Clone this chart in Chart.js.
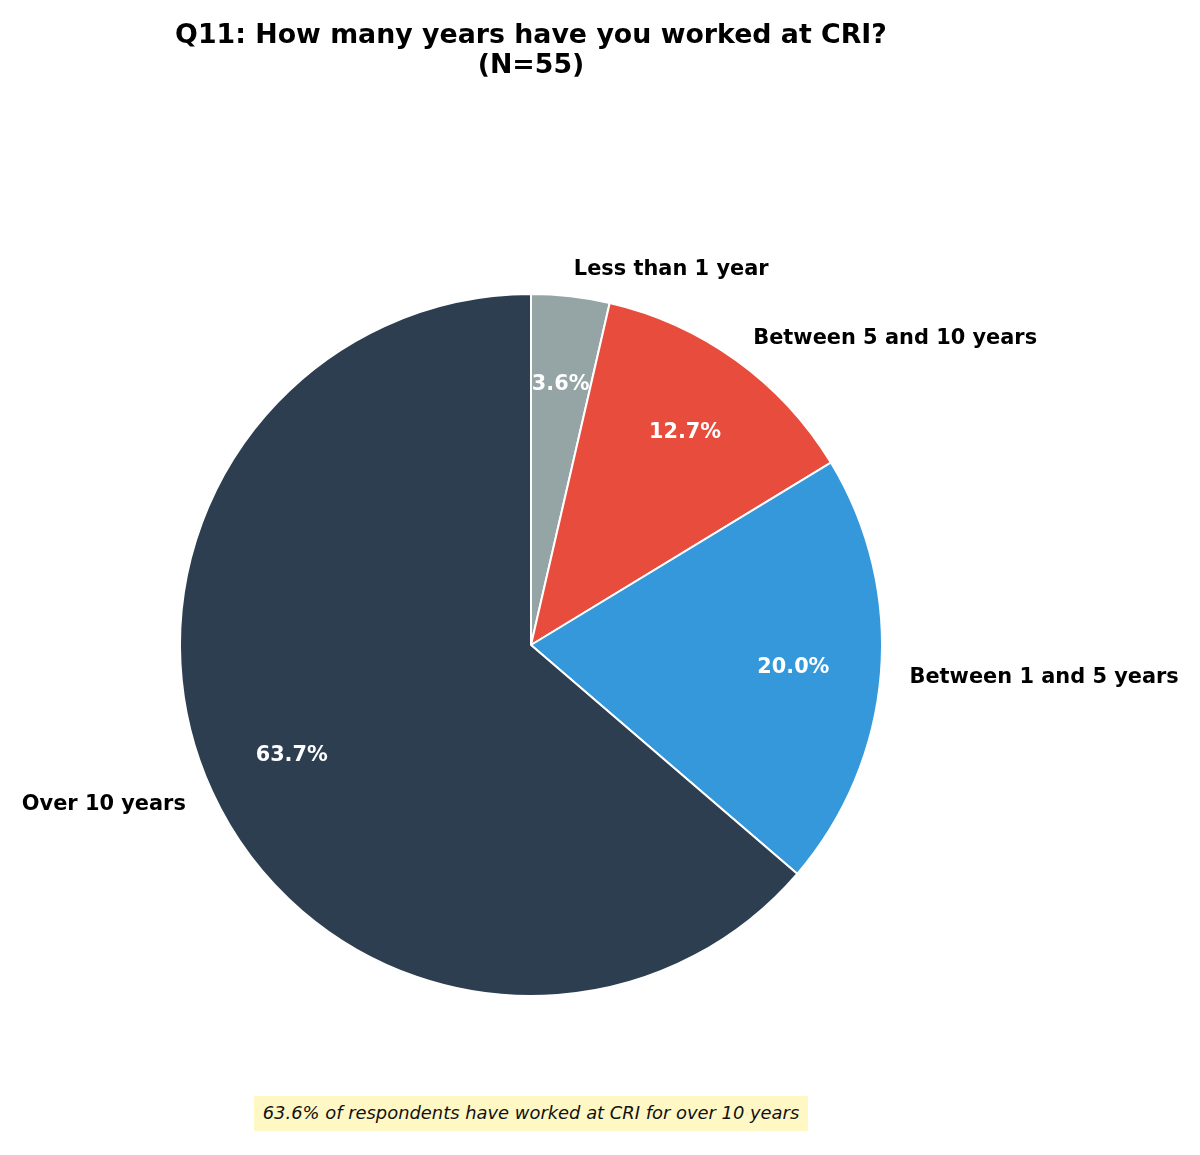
<!DOCTYPE html>
<html>
<head>
<meta charset="utf-8">
<script src="https://cdn.jsdelivr.net/npm/chart.js@4/dist/chart.umd.min.js"></script>
<style>
  html, body { margin: 0; padding: 0; background: #ffffff; }
  #wrap { position: relative; width: 1200px; height: 1155px; }
  #c { position: absolute; left: 0; top: 0; }
  #title {
    position: absolute; left: 0; width: 1062px; top: 19px;
    text-align: center; font-family: "DejaVu Sans", sans-serif; font-weight: bold;
    font-size: 26.8px; line-height: 30px; color: #000;
  }
  #note {
    position: absolute; left: 254px; top: 1096px; width: 554px; height: 35px;
    background: #fff8c5; font-family: "DejaVu Sans", sans-serif; font-style: italic;
    font-size: 17.9px; line-height: 34px; text-align: center; color: #111;
  }
</style>
</head>
<body>
<div id="wrap">
  <canvas id="c" width="1200" height="1155"></canvas>
  <div id="title">Q11: How many years have you worked at CRI?<br>(N=55)</div>
  <div id="note">63.6% of respondents have worked at CRI for over 10 years</div>
</div>
<script>
const categories = ["Less than 1 year", "Between 5 and 10 years", "Between 1 and 5 years", "Over 10 years"];
const percentValues = [3.6, 12.7, 20.0, 63.7];
const sliceColors = ["#95a5a6", "#e74c3c", "#3498db", "#2c3e50"];

const labelPlugin = {
  id: 'pieLabels',
  afterDatasetsDraw(chart) {
    const ctx = chart.ctx;
    const meta = chart.getDatasetMeta(0);
    meta.data.forEach((arc, i) => {
      const p = arc.getProps(['x', 'y', 'startAngle', 'endAngle', 'outerRadius'], true);
      const mid = (p.startAngle + p.endAngle) / 2;
      const c = Math.cos(mid), s = Math.sin(mid);
      ctx.save();
      // outer category label
      const rl = p.outerRadius * 1.082;
      ctx.font = 'bold 20.9px "DejaVu Sans", sans-serif';
      ctx.fillStyle = '#000';
      ctx.textBaseline = 'middle';
      ctx.textAlign = c >= 0 ? 'left' : 'right';
      ctx.fillText(chart.data.labels[i], p.x + rl * c, p.y + rl * s + 1.5);
      // percentage label
      const rp = p.outerRadius * 0.75;
      ctx.font = 'bold 20.8px "DejaVu Sans", sans-serif';
      ctx.fillStyle = '#ffffff';
      ctx.textAlign = 'center';
      ctx.fillText(chart.data.datasets[0].data[i].toFixed(1) + '%', p.x + rp * c, p.y + rp * s + 1);
      ctx.restore();
    });
  }
};

new Chart(document.getElementById('c'), {
  type: 'pie',
  data: {
    labels: categories,
    datasets: [{
      data: percentValues,
      backgroundColor: sliceColors,
      borderColor: '#ffffff',
      borderWidth: 2
    }]
  },
  options: {
    responsive: false,
    devicePixelRatio: 1,
    animation: false,
    radius: 351,
    layout: { padding: { left: 180, right: 318, top: 294, bottom: 159 } },
    plugins: {
      legend: { display: false },
      title: { display: false },
      tooltip: { enabled: false }
    }
  },
  plugins: [labelPlugin]
});
</script>
</body>
</html>
